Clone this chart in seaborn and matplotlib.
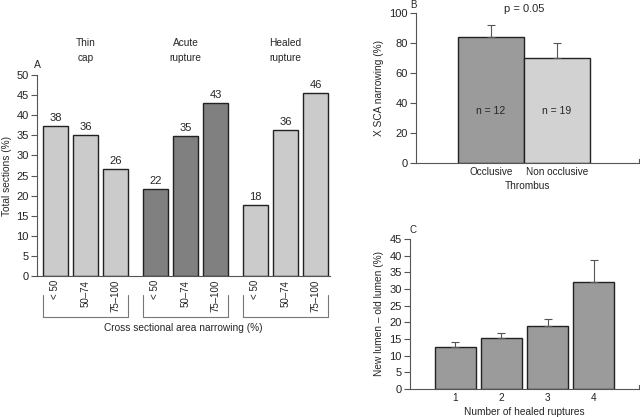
import pandas as pd
import matplotlib
matplotlib.use("Agg")
import matplotlib.pyplot as plt
import matplotlib.transforms as mtransforms
import numpy as np
import seaborn as sns

# panel A: lesion type x cross sectional area narrowing
lesion_types = ["Thin\ncap", "Acute\nrupture", "Healed\nrupture"]
narrowing = ["< 50", "50\u201374", "75\u2013100"]
thin_cap = [37.4, 35.1, 26.6]
acute_rupture = [21.6, 34.8, 43.0]
healed_rupture = [17.6, 36.3, 45.6]
thin_cap_lbl = ["38", "36", "26"]
acute_rupture_lbl = ["22", "35", "43"]
healed_rupture_lbl = ["18", "36", "46"]

# panel B: thrombus
thrombus = ["Occlusive", "Non occlusive"]
sca_narrowing = [83.8, 69.8]
sca_err = [8.0, 10.0]
n_labels = ["n = 12", "n = 19"]

# panel C: healed ruptures
healed_count = ["1", "2", "3", "4"]
lumen_gain = [12.5, 15.2, 18.9, 32.1]
lumen_err = [1.5, 1.5, 2.2, 6.7]

LIGHT = "#cbcbcb"
DARK = "#808080"
MID = "#9b9b9b"
EDGE = "#222222"
AXC = "#555555"

sns.set_style("ticks")
plt.rcParams.update({
    "font.family": ["Liberation Sans", "DejaVu Sans"],
    "font.size": 7.5,
    "axes.labelsize": 7.3,
    "xtick.labelsize": 7.2,
    "ytick.labelsize": 8,
    "axes.edgecolor": AXC,
    "axes.linewidth": 0.8,
    "xtick.color": AXC,
    "ytick.color": AXC,
    "xtick.labelcolor": "#222222",
    "ytick.labelcolor": "#222222",
    "ytick.major.size": 4,
    "ytick.major.width": 0.8,
})

W, H = 640, 417
fig = plt.figure(figsize=(W / 100, H / 100), dpi=100)


def px_axes(left, right, top, bottom):
    return fig.add_axes([left / W, (H - bottom) / H, (right - left) / W, (bottom - top) / H])


def style(ax):
    sns.despine(ax=ax)
    ax.tick_params(axis="x", length=0, pad=3)
    ax.tick_params(axis="y", direction="out", pad=2)


# ---------------- panel A ----------------
axA = px_axes(37, 330, 75, 276)
rows = []
for g, vals in zip(lesion_types, [thin_cap, acute_rupture, healed_rupture]):
    for r, v in zip(narrowing, vals):
        rows.append({"lesion": g, "range": r, "pct": v})
dfA = pd.DataFrame(rows)
sns.barplot(data=dfA, x="lesion", y="pct", hue="range", order=lesion_types,
            hue_order=narrowing, width=0.9, gap=0.167, palette=[LIGHT] * 3,
            edgecolor=EDGE, linewidth=1, legend=False, ax=axA)
group_colors = [LIGHT, DARK, LIGHT]
labels_all = [thin_cap_lbl, acute_rupture_lbl, healed_rupture_lbl]
centers, ticklabels = [], []
for hi, cont in enumerate(axA.containers):
    for gi, bar in enumerate(cont):
        bar.set_facecolor(group_colors[gi])
        cx = bar.get_x() + bar.get_width() / 2
        centers.append(cx)
        ticklabels.append(narrowing[hi])
        axA.annotate(labels_all[gi][hi], (cx, bar.get_height()), xytext=(0, 2),
                     textcoords="offset points", ha="center", va="bottom", fontsize=8)
axA.set_xlim(-0.485, 2.445)
axA.set_ylim(0, 50)
axA.set_yticks(np.arange(0, 51, 5))
axA.set_xticks(centers)
axA.set_xticklabels(ticklabels, rotation=90, va="top", fontsize=7)
style(axA)
axA.set_xlabel("")
axA.set_ylabel("Total sections (%)", labelpad=3)
trA = mtransforms.blended_transform_factory(axA.transData, axA.transAxes)
for gi, g in enumerate(lesion_types):
    bars = [cont[gi] for cont in axA.containers]
    x0 = bars[0].get_x()
    x1 = bars[-1].get_x() + bars[-1].get_width()
    axA.plot([x0, x0, x1, x1], [-0.0945, -0.204, -0.204, -0.0945], color="#777777",
             lw=0.8, transform=trA, clip_on=False)
    axA.text(gi, 1.12, g, transform=trA, ha="center", va="center", fontsize=7.3,
             linespacing=1.6)
axA.text(0.5, -0.259, "Cross sectional area narrowing (%)", transform=axA.transAxes,
         ha="center", va="center", fontsize=7.3)
axA.text(0.0, 1.05, "A", transform=axA.transAxes, ha="center", va="center", fontsize=7.5)

# ---------------- panel B ----------------
axB = px_axes(416, 639, 13, 163)
sns.barplot(x=thrombus, y=sca_narrowing, hue=thrombus, palette=[MID, "#d2d2d2"],
            width=1.0, edgecolor=EDGE, linewidth=1, legend=False, ax=axB)
axB.errorbar(x=[0, 1], y=sca_narrowing, yerr=[[0, 0], sca_err], fmt="none",
             ecolor="#555555", elinewidth=0.8, capsize=3, capthick=0.8, zorder=1)
for i, t in enumerate(n_labels):
    axB.text(i, 35, t, ha="center", va="center", fontsize=7.5)
axB.set_xlim(-1.136, 2.242)
axB.set_ylim(0, 100)
axB.set_yticks(np.arange(0, 101, 20))
style(axB)
axB.spines["right"].set_visible(True)
axB.spines["right"].set_bounds(0, 3)
axB.set_xlabel("Thrombus", labelpad=3)
axB.set_ylabel("X SCA narrowing (%)", labelpad=4)
axB.text(0.5, 1.027, "p = 0.05", transform=mtransforms.blended_transform_factory(
    axB.transData, axB.transAxes), ha="center", va="center", fontsize=8)
axB.text(-0.013, 1.05, "B", transform=axB.transAxes, ha="center", va="center", fontsize=7)

# ---------------- panel C ----------------
axC = px_axes(410, 639, 239, 389)
sns.barplot(x=healed_count, y=lumen_gain, color=MID, width=0.89, edgecolor=EDGE,
            linewidth=1, ax=axC)
axC.errorbar(x=range(len(lumen_gain)), y=lumen_gain, yerr=[[0] * 4, lumen_err],
             fmt="none", ecolor="#555555", elinewidth=0.8, capsize=3, capthick=0.8, zorder=1)
axC.set_xlim(-0.989, 3.989)
axC.set_ylim(0, 45)
axC.set_yticks(np.arange(0, 46, 5))
style(axC)
axC.spines["right"].set_visible(True)
axC.spines["right"].set_bounds(0, 1.3)
axC.set_xlabel("Number of healed ruptures", labelpad=3)
axC.set_ylabel("New lumen \u2013 old lumen (%)", labelpad=4)
axC.text(0.013, 1.06, "C", transform=axC.transAxes, ha="center", va="center", fontsize=7)

fig.savefig("out.png", dpi=100)
